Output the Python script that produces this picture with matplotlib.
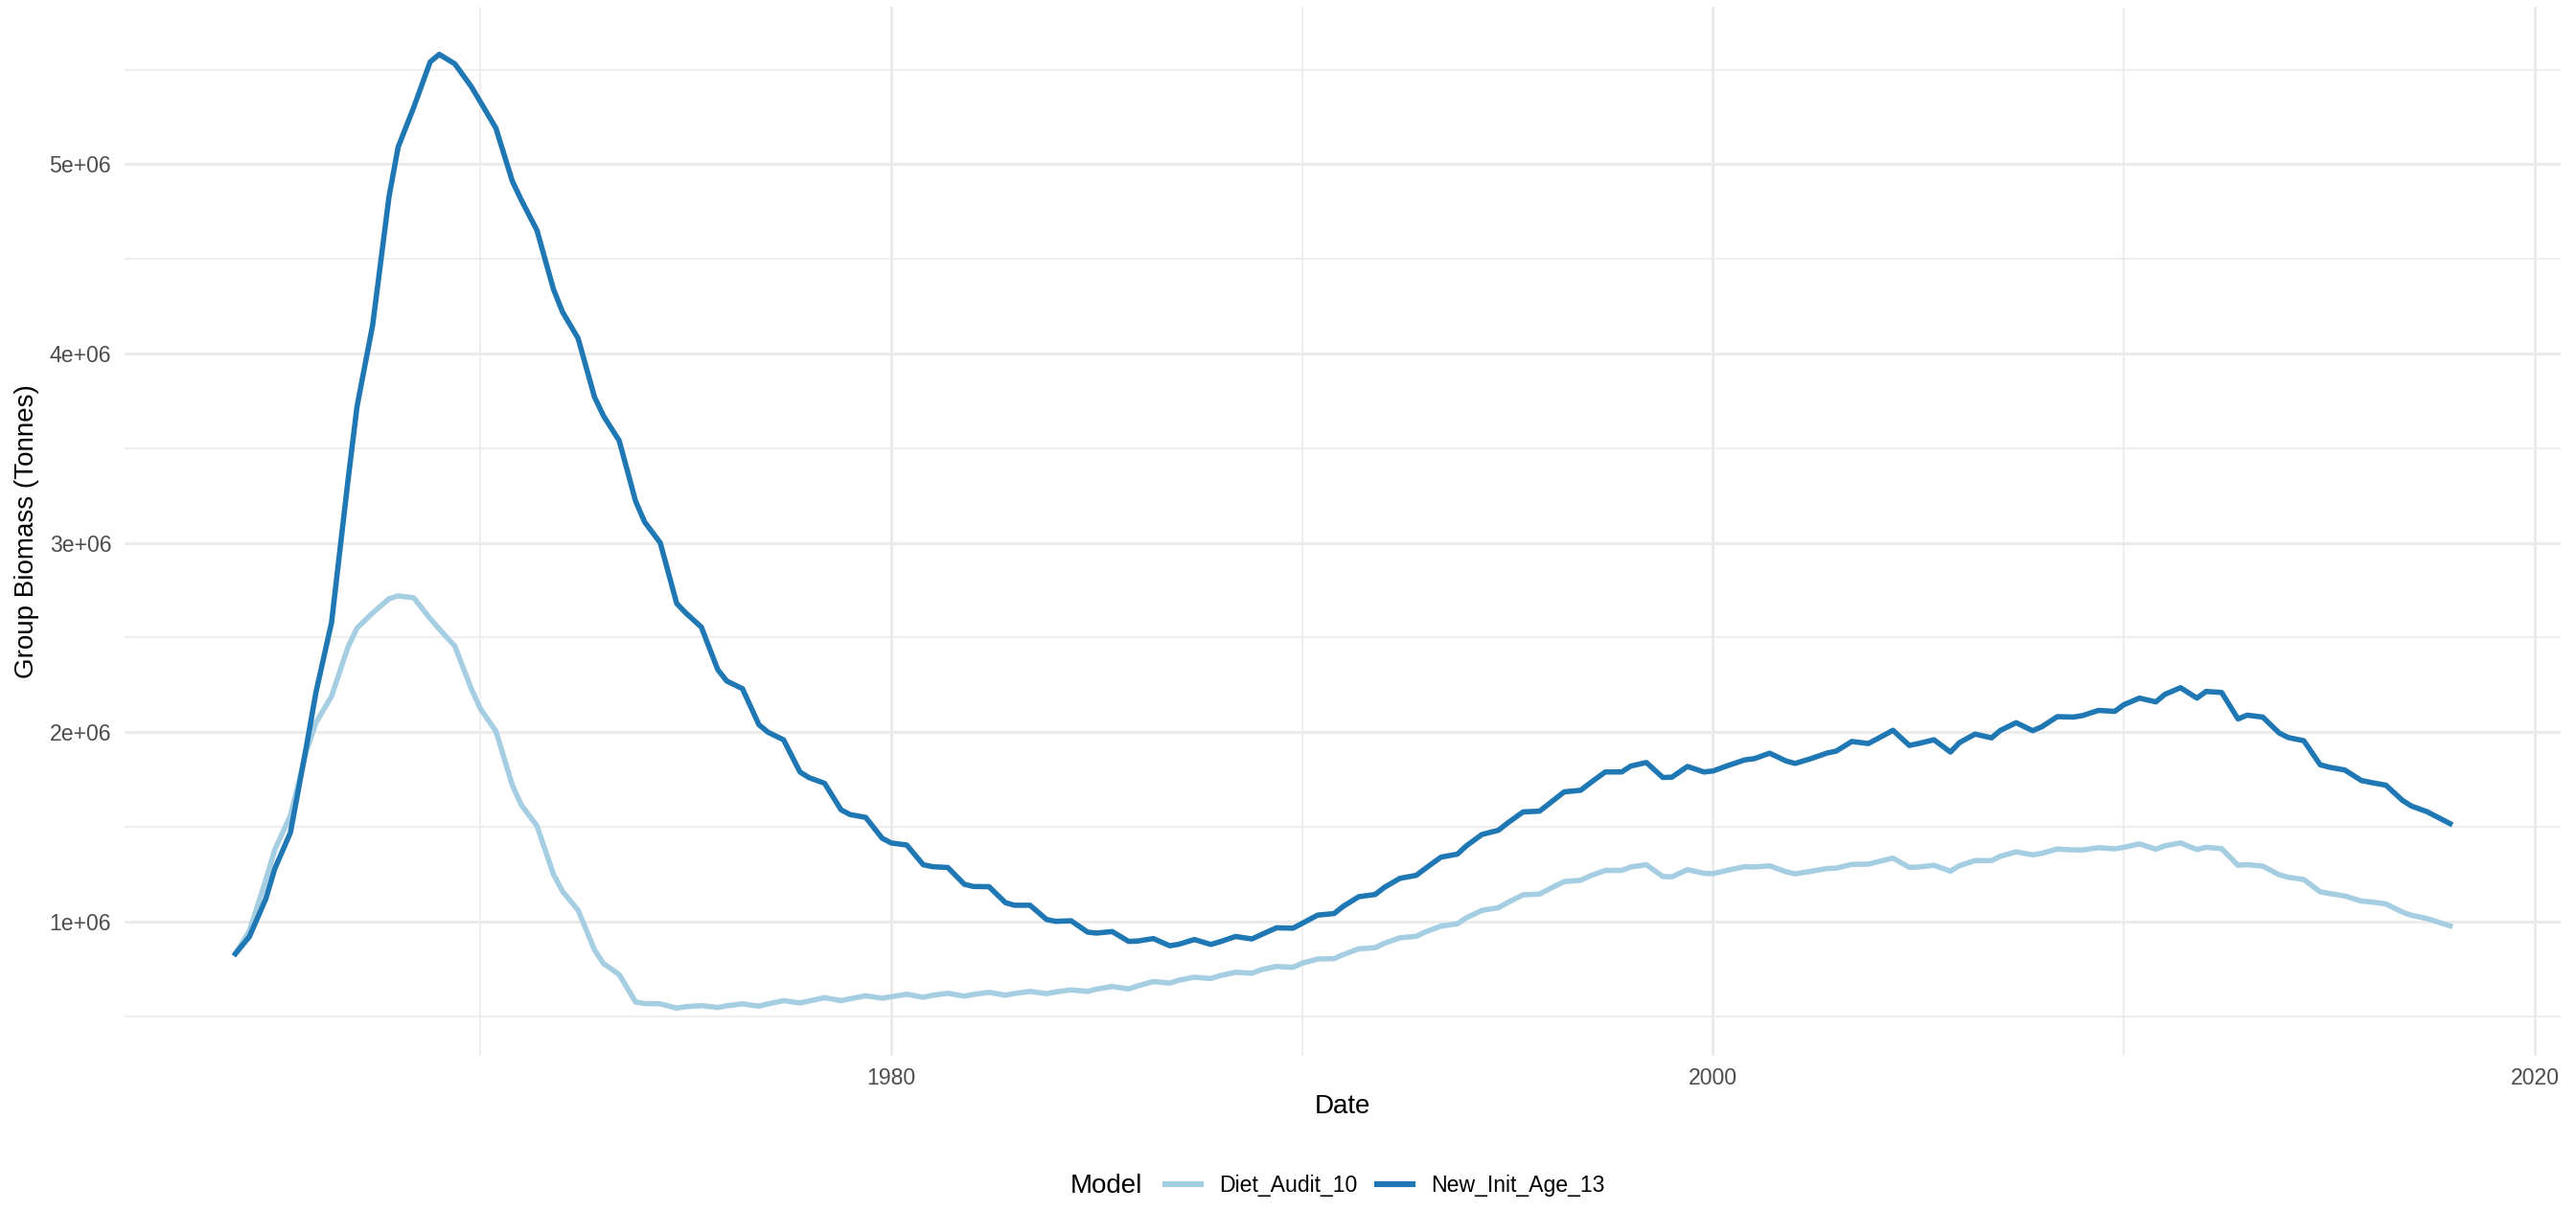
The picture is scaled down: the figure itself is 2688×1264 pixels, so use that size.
import matplotlib
matplotlib.use("Agg")
import matplotlib.pyplot as plt
from matplotlib.lines import Line2D
from matplotlib.ticker import FuncFormatter, MultipleLocator

plt.rcParams['font.family'] = ['Liberation Sans', 'DejaVu Sans']

# time axis (decimal years), three readings per year
dates = [1964.04, 1964.38, 1964.78] + \
        [y + f for y in range(1965, 2018) for f in (0.0, 0.38, 0.78)] + [2017.94]

# group biomass, millions of tonnes
diet_audit_10 = [
    0.83, 0.95, 1.22,      # 1964
    1.38, 1.56, 1.91,      # 1965
    2.05, 2.19, 2.45,
    2.55, 2.63, 2.705,
    2.72, 2.71, 2.60,
    2.545, 2.455, 2.23,
    2.125, 2.005, 1.72,    # 1970
    1.615, 1.505, 1.25,
    1.16, 1.06, 0.85,
    0.778, 0.72, 0.575,
    0.567, 0.565, 0.543,
    0.55, 0.556, 0.546,    # 1975
    0.555, 0.565, 0.553,
    0.565, 0.582, 0.570,
    0.58, 0.598, 0.582,
    0.592, 0.608, 0.595,
    0.603, 0.616, 0.600,   # 1980
    0.61, 0.621, 0.606,
    0.615, 0.626, 0.611,
    0.62, 0.631, 0.619,
    0.628, 0.639, 0.631,
    0.643, 0.657, 0.644,   # 1985
    0.66, 0.683, 0.675,
    0.69, 0.706, 0.699,
    0.714, 0.732, 0.727,
    0.745, 0.763, 0.758,
    0.78, 0.802, 0.804,    # 1990
    0.825, 0.856, 0.862,
    0.885, 0.914, 0.922,
    0.945, 0.976, 0.988,
    1.02, 1.059, 1.073,
    1.10, 1.141, 1.145,    # 1995
    1.17, 1.211, 1.218,
    1.24, 1.27, 1.27,
    1.288, 1.30, 1.238,
    1.236, 1.274, 1.255,
    1.253, 1.272, 1.29,    # 2000
    1.288, 1.294, 1.263,
    1.252, 1.265, 1.28,
    1.282, 1.302, 1.303,
    1.315, 1.335, 1.286,
    1.288, 1.297, 1.266,   # 2005
    1.295, 1.322, 1.322,
    1.345, 1.368, 1.352,
    1.36, 1.383, 1.378,
    1.378, 1.39, 1.384,
    1.392, 1.41, 1.382,    # 2010
    1.40, 1.415, 1.38,
    1.392, 1.385, 1.297,
    1.30, 1.293, 1.247,
    1.234, 1.222, 1.157,
    1.148, 1.135, 1.108,   # 2015
    1.104, 1.093, 1.05,
    1.033, 1.016, 0.988,
    0.977,
]

new_init_age_13 = [
    0.83, 0.92, 1.12,      # 1964
    1.28, 1.47, 1.94,      # 1965
    2.21, 2.58, 3.33,
    3.72, 4.15, 4.83,
    5.09, 5.30, 5.54,
    5.58, 5.53, 5.41,
    5.33, 5.19, 4.91,      # 1970
    4.81, 4.65, 4.34,
    4.22, 4.08, 3.77,
    3.67, 3.54, 3.22,
    3.11, 3.00, 2.68,
    2.63, 2.555, 2.33,     # 1975
    2.27, 2.23, 2.04,
    2.00, 1.96, 1.79,
    1.76, 1.73, 1.59,
    1.565, 1.55, 1.44,
    1.415, 1.404, 1.30,    # 1980
    1.29, 1.285, 1.197,
    1.185, 1.184, 1.10,
    1.086, 1.086, 1.011,
    1.001, 1.004, 0.944,
    0.939, 0.947, 0.895,   # 1985
    0.897, 0.910, 0.872,
    0.880, 0.905, 0.879,
    0.893, 0.921, 0.908,
    0.930, 0.967, 0.965,
    0.99, 1.034, 1.042,    # 1990
    1.08, 1.131, 1.143,
    1.18, 1.228, 1.244,
    1.28, 1.34, 1.356,
    1.40, 1.46, 1.482,
    1.52, 1.579, 1.583,    # 1995
    1.62, 1.685, 1.693,
    1.73, 1.79, 1.79,
    1.821, 1.84, 1.761,
    1.762, 1.819, 1.79,
    1.795, 1.825, 1.854,   # 2000
    1.86, 1.889, 1.848,
    1.835, 1.86, 1.89,
    1.90, 1.951, 1.94,
    1.965, 2.01, 1.93,
    1.94, 1.96, 1.895,     # 2005
    1.945, 1.99, 1.97,
    2.01, 2.05, 2.008,
    2.028, 2.082, 2.08,
    2.088, 2.115, 2.11,
    2.145, 2.18, 2.16,     # 2010
    2.20, 2.235, 2.18,
    2.215, 2.21, 2.07,
    2.09, 2.08, 1.996,
    1.972, 1.955, 1.828,
    1.815, 1.80, 1.745,    # 2015
    1.735, 1.72, 1.64,
    1.61, 1.58, 1.535,
    1.517,
]

models = ["Diet_Audit_10", "New_Init_Age_13"]
colors = ["#A6CEE3", "#1F78B4"]
series = [diet_audit_10, new_init_age_13]

fig = plt.figure(figsize=(13.44, 6.32), dpi=200)
ax = fig.add_axes([0.0484, 0.1282, 0.9457, 0.8663])

for vals, c in zip(series, colors):
    ax.plot(dates, [v * 1e6 for v in vals], color=c, lw=2.0, solid_joinstyle='round')

# ggplot style 5% expansion
xlo, xhi = min(dates), max(dates)
ax.set_xlim(xlo - 0.05 * (xhi - xlo), xhi + 0.05 * (xhi - xlo))
allv = [v * 1e6 for s in series for v in s]
ylo, yhi = min(allv), max(allv)
ax.set_ylim(ylo - 0.05 * (yhi - ylo), yhi + 0.05 * (yhi - ylo))

ax.xaxis.set_major_locator(MultipleLocator(20))
ax.xaxis.set_minor_locator(MultipleLocator(10))
ax.yaxis.set_major_locator(MultipleLocator(1e6))
ax.yaxis.set_minor_locator(MultipleLocator(0.5e6))
ax.yaxis.set_major_formatter(FuncFormatter(lambda v, p: f"{v:.0e}"))
ax.xaxis.set_major_formatter(FuncFormatter(lambda v, p: f"{int(round(v))}"))

ax.grid(which='major', color='#EBEBEB', lw=1.1)
ax.grid(which='minor', color='#EBEBEB', lw=0.6)
ax.set_axisbelow(True)
for s in ax.spines.values():
    s.set_visible(False)
ax.tick_params(which='both', length=0)
ax.tick_params(axis='y', labelsize=8.3, labelcolor='#4D4D4D', pad=5)
ax.tick_params(axis='x', labelsize=8.3, labelcolor='#4D4D4D', pad=4.5)

fig.text(0.5212, 0.0862, "Date", ha='center', va='center', fontsize=10)
fig.text(0.0104, 0.5613, "Group Biomass (Tonnes)", rotation=90, ha='center', va='center', fontsize=10)

# legend at the bottom, title on the left like ggplot
fig.text(0.4155, 0.0206, "Model", ha='left', va='center', fontsize=10)
handles = [Line2D([], [], color=c, lw=2.2) for c in colors]
fig.legend(handles, models, loc='center left', bbox_to_anchor=(0.4524, 0.0206),
           ncol=2, frameon=False, fontsize=8.3, handlelength=1.6, handletextpad=0.85,
           columnspacing=0.87, borderpad=0, borderaxespad=0)

fig.savefig("out.png", dpi=200, facecolor='white')
